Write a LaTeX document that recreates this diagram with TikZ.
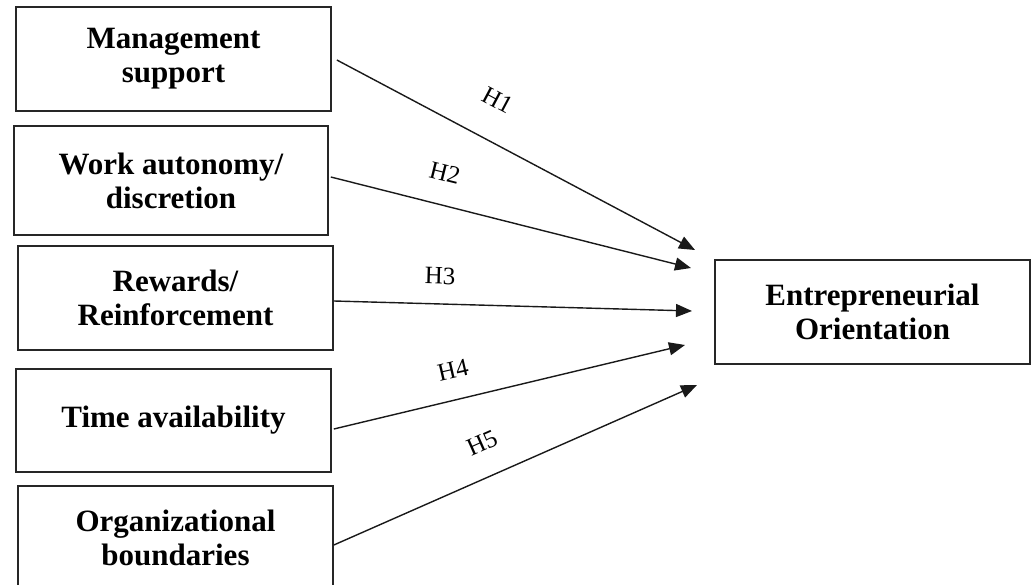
\documentclass[tikz,border=0pt]{standalone}
\usepackage{fontspec}
\setmainfont{Liberation Serif}
\usetikzlibrary{arrows.meta,calc}
\begin{document}
\begin{tikzpicture}[x=1pt,y=1pt,
  box/.style={draw=black!85,line width=1.7pt,minimum width=315pt,minimum height=104pt,
    align=center,inner sep=0pt,font=\fontsize{31}{34}\selectfont\bfseries},
  arr/.style={draw=black!90,line width=1.4pt,-{Triangle[length=16pt,width=13pt]}},
  hl/.style={font=\fontsize{25}{28}\selectfont,inner sep=0pt}]
\useasboundingbox (0,0) rectangle (1031,-585);
\clip (0,0) rectangle (1031,-585);
\node[box] (ms) at (173.5,-59) {Management\\support};
\node[box,minimum width=314pt,minimum height=109pt] (wa) at (171,-180.5) {Work autonomy/\\discretion};
\node[box] (rr) at (175.5,-298) {Rewards/\\Reinforcement};
\node[box,minimum height=103pt] (ta) at (173.5,-420.5) {Time availability};
\node[box] (ob) at (175.5,-538) {Organizational\\boundaries};
\node[box] (eo) at (872.5,-312) {Entrepreneurial\\Orientation};
\coordinate (t1) at (695,-250);
\coordinate (t2) at (691,-268);
\coordinate (t3) at (692,-311);
\coordinate (t4) at (685,-345);
\coordinate (t5) at (697,-385);
\draw[arr] ($(ms.east)+(5,-1)$) -- (t1);
\draw[arr] ($(wa.east)+(2,3.5)$) -- (t2);
\draw[arr] ($(rr.east)+(0,-3)$) -- (t3);
\draw[arr] ($(ta.east)+(2,-8.5)$) -- (t4);
\draw[arr] ($(ob.east)+(0,-7)$) -- (t5);
\node[hl,rotate=-28] (h1) at (498,-100) {H1};
\node[hl,rotate=-14] (h2) at (445,-173) {H2};
\node[hl,rotate=-1.5] (h3) at (440,-276) {H3};
\node[hl,rotate=13] (h4) at (453,-370) {H4};
\node[hl,rotate=24] (h5) at (482,-443) {H5};
\end{tikzpicture}
\end{document}
